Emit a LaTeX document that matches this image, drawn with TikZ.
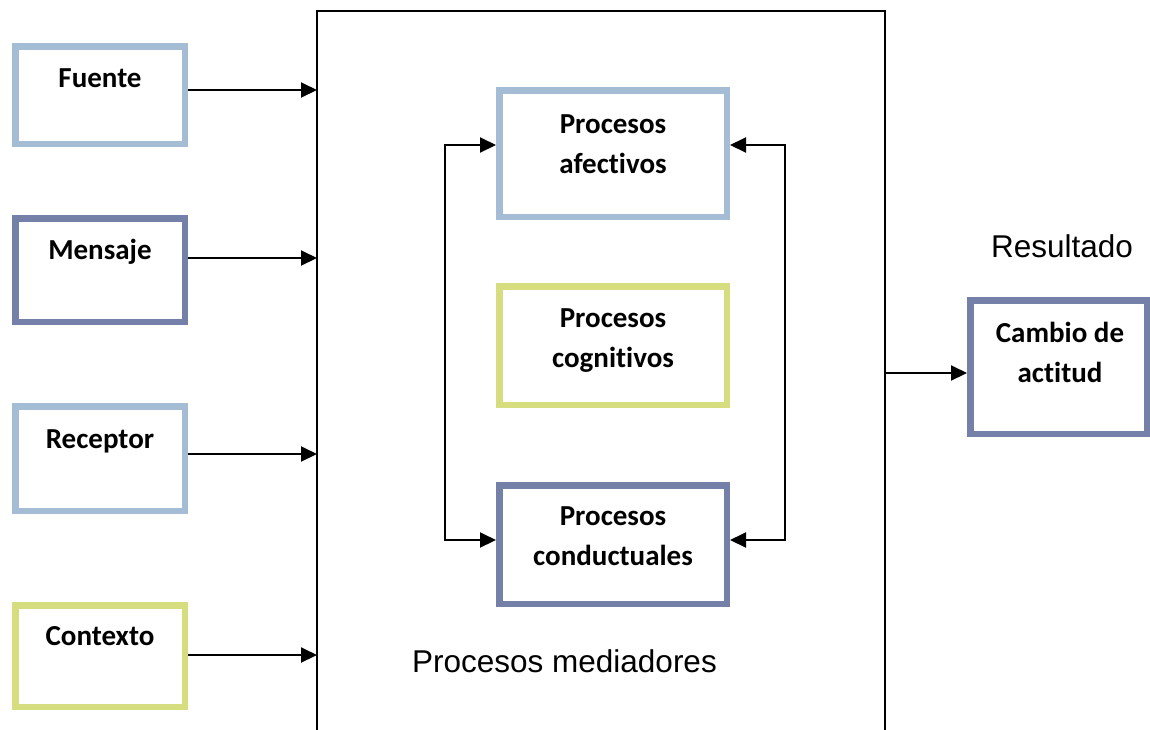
\documentclass[tikz,border=0pt]{standalone}
\usepackage{fontspec}
\setmainfont[Ligatures=NoCommon]{Carlito}
\newfontfamily\arialfont{Liberation Sans}
\usetikzlibrary{arrows.meta}
\definecolor{paleblue}{RGB}{164,189,212}
\definecolor{slateblue}{RGB}{116,128,168}
\definecolor{lime}{RGB}{214,221,126}
% two centred lines; the box baseline is that of the first line
\newcommand{\twolines}[2]{\vtop{\halign{\hfil##\hfil\cr #1\cr #2\cr}}}
\begin{document}
\begin{tikzpicture}[x=1pt,y=-1pt,
  box/.style={draw=#1,line width=6.5pt,fill=white,rectangle,inner sep=0pt},
  lbl/.style={anchor=base,inner sep=0pt,font=\fontsize{29}{40}\selectfont\bfseries},
  plain/.style={anchor=base,inner sep=0pt,font=\fontsize{31.5}{38}\selectfont\arialfont},
  arr/.style={line width=2pt,-{Triangle[length=16pt,width=15pt]}},
  darr/.style={line width=2pt,{Triangle[length=16pt,width=15pt]}-{Triangle[length=16pt,width=15pt]}}
]
\useasboundingbox (0,0) rectangle (1150,729);
\clip (0,0) rectangle (1150,729);
\fill[white] (0,0) rectangle (1150,729);

% mediating processes frame (runs past the lower edge)
\node[draw=black,line width=1.8pt,rectangle,inner sep=0pt,
      minimum width=568pt,minimum height=800pt] (big) at (601,411) {};

% input boxes
\node[box=paleblue,minimum width=169.5pt,minimum height=97.5pt] (fuente) at (100,95) {};
\node[box=slateblue,minimum width=169.5pt,minimum height=103.5pt] (mensaje) at (100,270) {};
\node[box=paleblue,minimum width=169.5pt,minimum height=104.5pt] (receptor) at (100,458.5) {};
\node[box=lime,minimum width=169.5pt,minimum height=101.5pt] (contexto) at (100,656) {};

\node[lbl] (tfuente) at (100,87) {Fuente};
\node[lbl] (tmensaje) at (100,259) {Mensaje};
\node[lbl] (treceptor) at (100,448) {Receptor};
\node[lbl] (tcontexto) at (100,645) {Contexto};

% inner process boxes
\node[box=paleblue,minimum width=227.5pt,minimum height=126.5pt] (afect) at (613,153.5) {};
\node[box=lime,minimum width=227.5pt,minimum height=118.5pt] (cogn) at (613,345.5) {};
\node[box=slateblue,minimum width=227.5pt,minimum height=118.5pt] (cond) at (613,544.5) {};

\node[lbl] (tafect) at (613,133) {\twolines{Procesos}{afectivos}};
\node[lbl] (tcogn) at (613,327) {\twolines{Procesos}{cognitivos}};
\node[lbl] (tcond) at (613,525) {\twolines{Procesos}{conductuales}};

% result box
\node[box=slateblue,minimum width=176.5pt,minimum height=133.5pt] (cambio) at (1058.5,367) {};
\node[lbl] (tcambio) at (1060,342) {\twolines{Cambio de}{actitud}};

\node[plain] (resultado) at (1062,257) {Resultado};
\node[plain] (mediadores) at (564.5,672) {Procesos mediadores};

% entry points on the frame
\coordinate (inF) at (317,90);
\coordinate (inM) at (317,258);
\coordinate (inR) at (317,454);
\coordinate (inC) at (317,655);
\draw[arr] (fuente.east |- inF) -- (inF);
\draw[arr] (mensaje.east |- inM) -- (inM);
\draw[arr] (receptor.east |- inR) -- (inR);
\draw[arr] (contexto.east |- inC) -- (inC);

% feedback loops between affective and behavioural processes
\coordinate (lt) at (445,145);
\coordinate (lb) at (445,540);
\coordinate (rt) at (785,145);
\coordinate (rb) at (785,540);
\draw[darr] (afect.west |- lt) -- (lt) -- (lb) -- (cond.west |- lb);
\draw[darr] (afect.east |- rt) -- (rt) -- (rb) -- (cond.east |- rb);

% output
\coordinate (out) at (885,373);
\draw[arr] (out) -- (cambio.west |- out);
\end{tikzpicture}
\end{document}
